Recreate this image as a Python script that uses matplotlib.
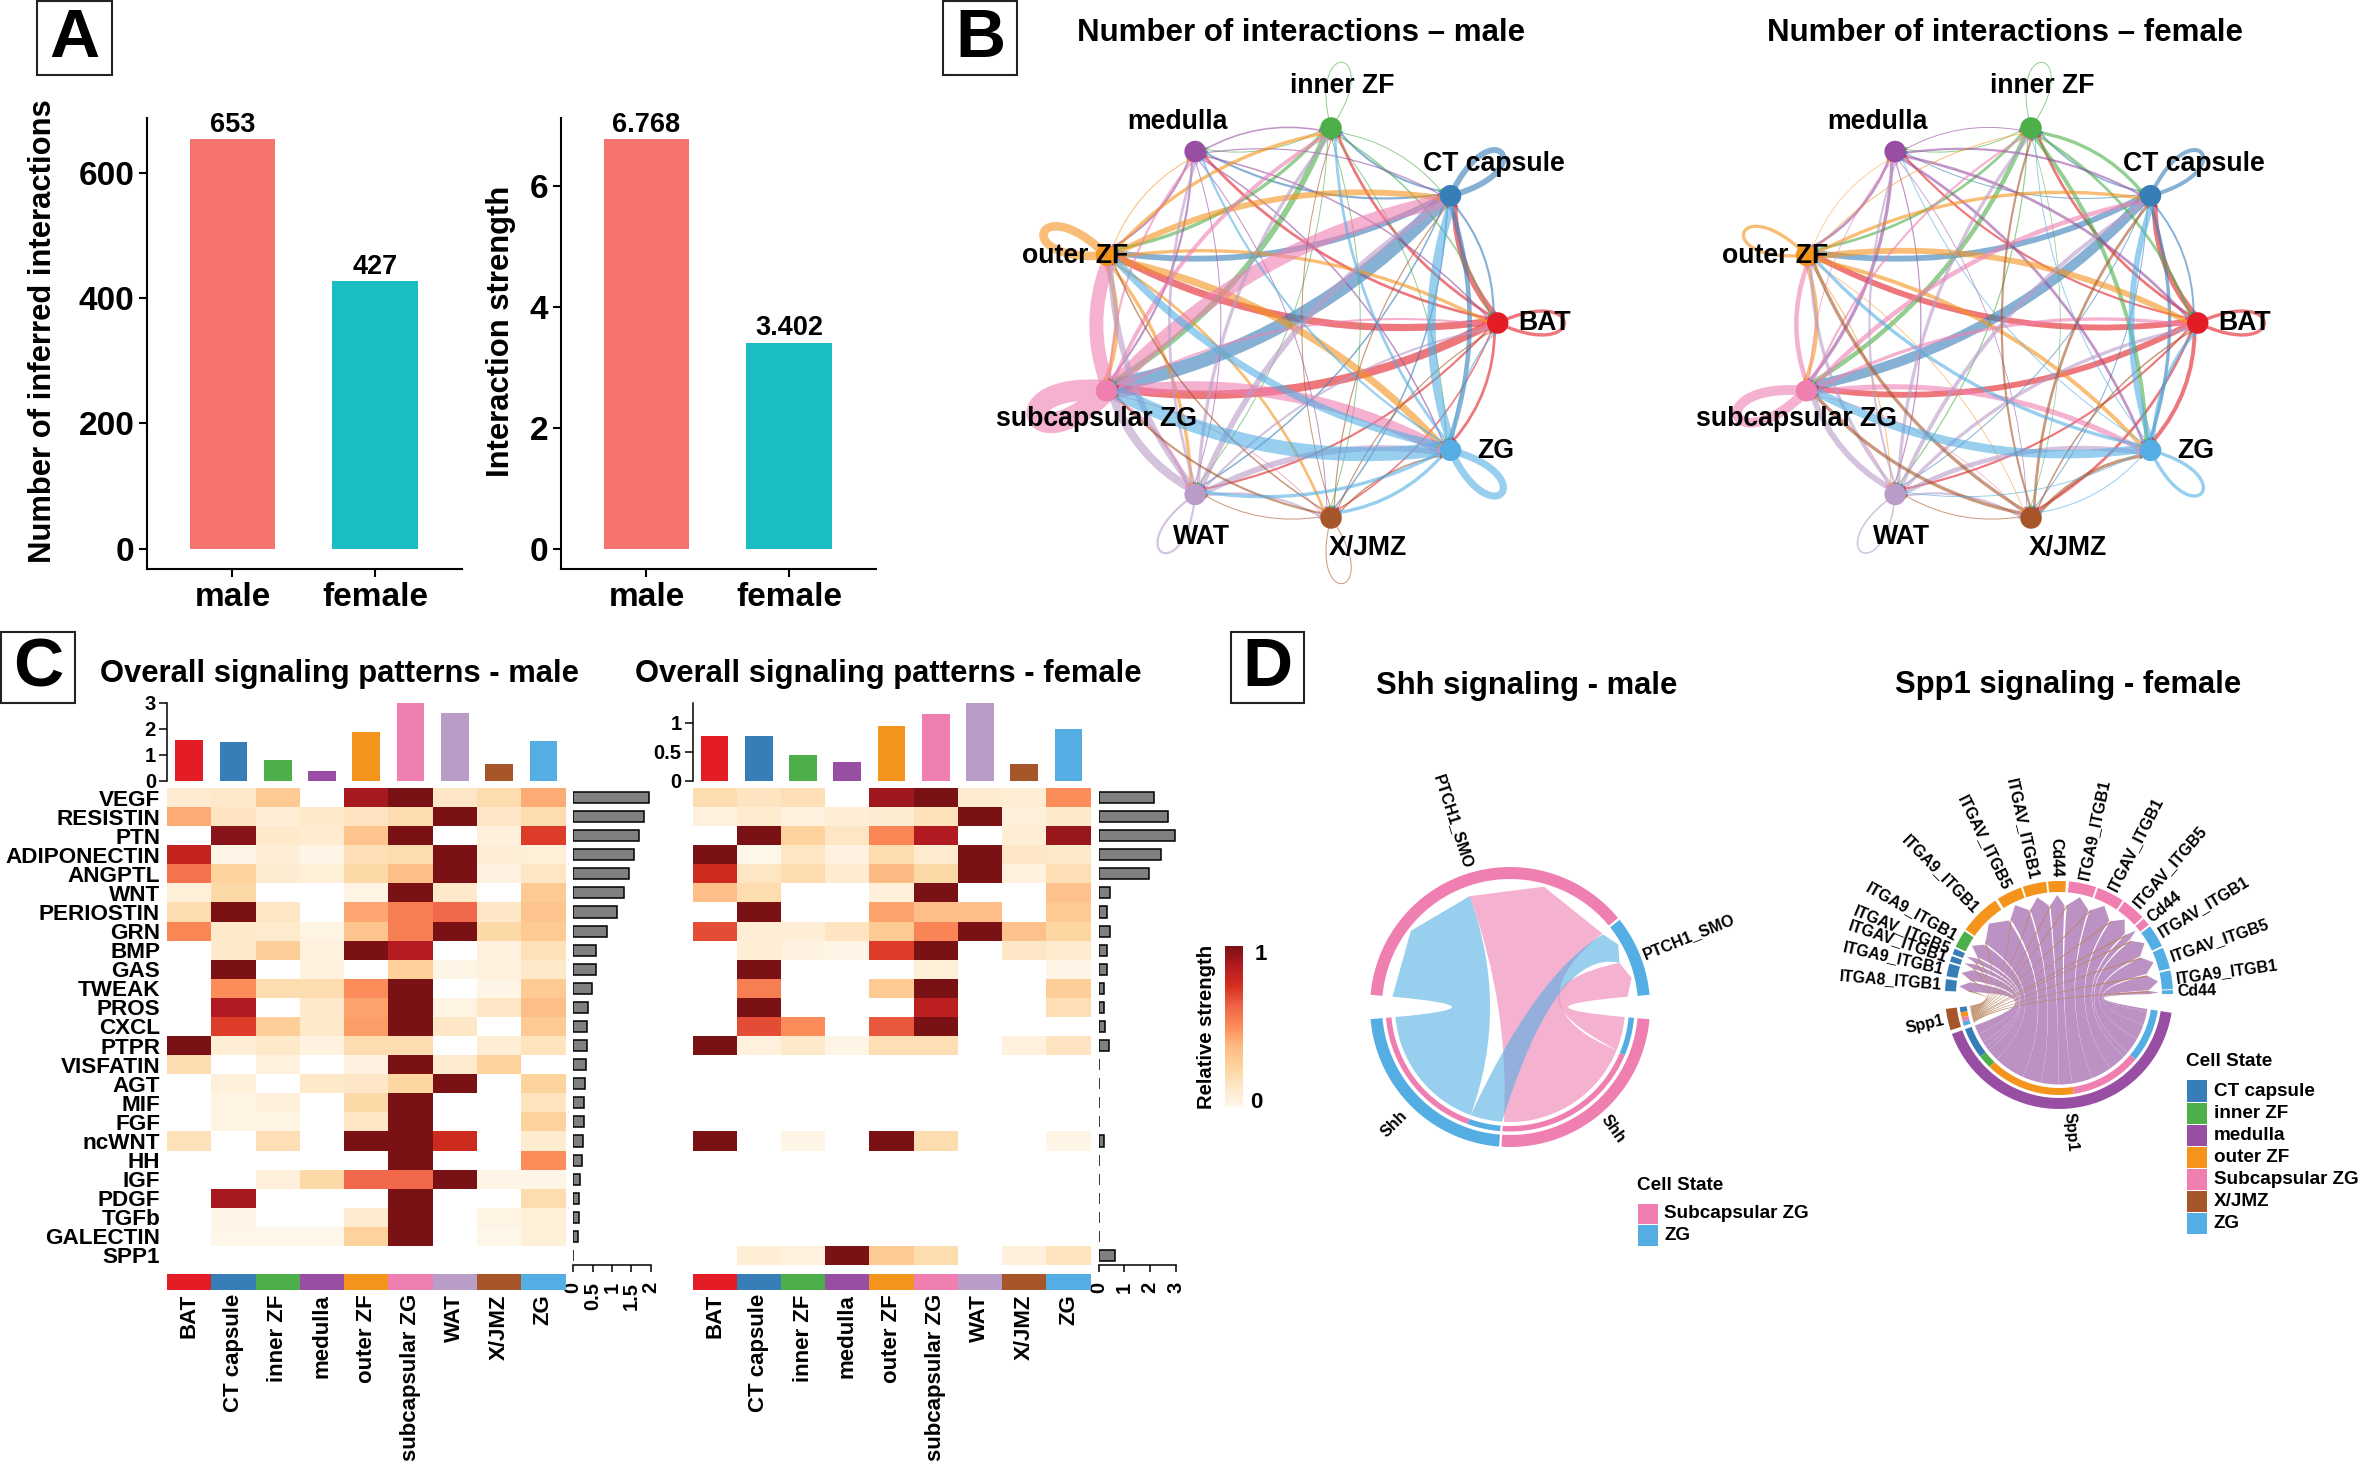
import numpy as np
import matplotlib
matplotlib.use("Agg")
import matplotlib.pyplot as plt
from matplotlib.colors import LinearSegmentedColormap
from matplotlib.patches import PathPatch, Polygon, Rectangle
from matplotlib.path import Path
from matplotlib.transforms import ScaledTranslation

plt.rcParams["font.family"] = ["Liberation Sans", "DejaVu Sans"]
plt.rcParams["font.weight"] = "bold"

W, H = 2362, 1466

# panel A
SEX = ["male", "female"]
N_INTERACTIONS = [653, 427]
STRENGTH = [6.768, 3.402]
SEX_COLORS = ["#F5746D", "#1ABDC1"]

# cell states
STATES = ["BAT", "CT capsule", "inner ZF", "medulla", "outer ZF", "subcapsular ZG", "WAT", "X/JMZ", "ZG"]
STATE_COLORS = ["#E31C25", "#377EB8", "#4DAF4A", "#984EA3", "#F4941C", "#EF7FB1", "#BA9CC8", "#A65628", "#54AEE3"]
HEAT_COLORS = ["#FFF7EC", "#FEE8C8", "#FDD49E", "#FDBB84", "#FC8D59", "#EF6548", "#D7301F", "#B31B21", "#7A1215"]

# panel B, widths in px, row = source, column = target
WIDTH_MALE = [
    [3, 5, 2.5, 2.5, 6, 7, 2, 1.5, 2.5],
    [2, 5, 2, 2, 5, 11, 1.5, 1.5, 4],
    [1.5, 1, 1, 1, 3, 5, 1, 1, 1],
    [1.5, 1.2, 1.5, 0, 2, 2, 1, 1, 1.5],
    [3, 5, 3, 1, 7, 4, 3, 2.5, 6],
    [2, 11, 3.5, 2, 11, 16, 3, 1, 9],
    [2, 5, 3, 2.5, 5, 7, 2, 2, 5],
    [1.2, 1.2, 1, 0, 1.5, 2, 1, 1, 1.5],
    [1.5, 7, 2.5, 2, 6, 11, 3, 3, 6],
]
WIDTH_FEMALE = [
    [3, 5, 2.5, 2, 5, 5, 2, 2.5, 3.5],
    [1.8, 3.5, 1.5, 1, 5, 8, 1, 1, 3],
    [2.5, 3, 1, 1, 2.5, 4, 1.2, 0.8, 3.5],
    [2.5, 2, 1, 0, 2.5, 3, 1.2, 0.8, 2.5],
    [5, 3, 1, 0.7, 3, 3.5, 1, 0.8, 3.5],
    [3, 4, 2, 1, 4, 8, 1, 0.8, 4.5],
    [3, 3.5, 3, 2, 3, 5, 1.5, 2, 4],
    [1.5, 2.5, 2, 0, 3, 3, 1, 0, 3],
    [3, 5, 1, 1, 3, 7, 1, 1, 3],
]
NODE_LABEL_POS = [(1545, 323), (1494, 164), (1342, 86), (1177, 122), (1075, 256),
                  (1096, 419), (1201, 537), (1368, 548), (1496, 451)]

# panel C
PATHWAYS = ["VEGF", "RESISTIN", "PTN", "ADIPONECTIN", "ANGPTL", "WNT", "PERIOSTIN", "GRN", "BMP",
            "GAS", "TWEAK", "PROS", "CXCL", "PTPR", "VISFATIN", "AGT", "MIF", "FGF", "ncWNT",
            "HH", "IGF", "PDGF", "TGFb", "GALECTIN", "SPP1"]
HEAT_MALE = [
    [.1, .12, .3, 0, .9, 1, .13, .2, .42],
    [.42, .15, .08, .12, .15, .2, 1, .13, .2],
    [0, .97, .12, .1, .33, 1, 0, .06, .72],
    [.82, .02, .08, .02, .18, .2, 1, .08, .07],
    [.58, .26, .09, .07, .22, .36, 1, .04, .14],
    [.07, .22, 0, 0, .03, 1, .12, 0, .3],
    [.2, 1, .14, 0, .43, .55, .62, .13, .33],
    [.52, .12, .11, .03, .33, .55, 1, .22, .3],
    [0, .12, .28, .05, 1, .87, 0, .05, .17],
    [0, 1, 0, .05, 0, .27, .02, .05, .12],
    [0, .5, .2, .2, .5, 1, 0, .02, .3],
    [0, .88, 0, .12, .44, 1, .03, .13, .36],
    [0, .72, .28, .12, .46, 1, .13, 0, .3],
    [1, .08, .12, .04, .2, .2, 0, .08, .16],
    [.2, 0, .05, 0, .04, 1, .1, .26, 0],
    [0, .06, 0, .12, .13, .24, 1, 0, .25],
    [0, .03, .06, 0, .22, 1, 0, 0, .16],
    [0, .03, .03, 0, .14, 1, 0, 0, .26],
    [.17, 0, .18, 0, 1, 1, .78, 0, .1],
    [0, 0, 0, 0, 0, 1, 0, 0, .5],
    [0, 0, .06, .22, .62, .62, 1, .02, .02],
    [0, .9, 0, 0, 0, 1, 0, 0, .2],
    [0, .02, 0, 0, .1, 1, 0, .03, .07],
    [0, .01, .01, .01, .26, 1, 0, .01, .07],
    [0, 0, 0, 0, 0, 0, 0, 0, 0],
]
HEAT_FEMALE = [
    [.2, .15, .18, 0, .92, 1, .1, .08, .5],
    [.05, .1, .05, .08, .09, .17, 1, .06, .12],
    [0, 1, .26, .14, .52, .88, 0, .08, .93],
    [1, .01, .14, .04, .2, .1, 1, .13, .12],
    [.78, .14, .2, .1, .38, .22, 1, .05, .18],
    [.36, .2, 0, 0, .06, 1, 0, 0, .34],
    [0, 1, 0, 0, .44, .36, .36, 0, .3],
    [.68, .08, .08, .15, .3, .53, 1, .34, .24],
    [0, .08, .04, .02, .72, 1, 0, .13, .11],
    [0, 1, 0, 0, 0, .07, 0, 0, .02],
    [0, .55, 0, 0, .3, 1, 0, 0, .28],
    [0, 1, 0, 0, 0, .84, 0, 0, .18],
    [0, .68, .5, 0, .66, 1, 0, 0, 0],
    [1, .05, .12, .02, .18, .18, 0, .05, .15],
    [0, 0, 0, 0, 0, 0, 0, 0, 0],
    [0, 0, 0, 0, 0, 0, 0, 0, 0],
    [0, 0, 0, 0, 0, 0, 0, 0, 0],
    [0, 0, 0, 0, 0, 0, 0, 0, 0],
    [1, 0, .02, 0, 1, .2, 0, 0, .02],
    [0, 0, 0, 0, 0, 0, 0, 0, 0],
    [0, 0, 0, 0, 0, 0, 0, 0, 0],
    [0, 0, 0, 0, 0, 0, 0, 0, 0],
    [0, 0, 0, 0, 0, 0, 0, 0, 0],
    [0, 0, 0, 0, 0, 0, 0, 0, 0],
    [0, .08, .05, 1, .3, .2, 0, .06, .16],
]
TOP_MALE = [1.57, 1.51, .82, .37, 1.9, 3, 2.63, .65, 1.55]
TOP_FEMALE = [.78, .78, .45, .33, .95, 1.15, 1.34, .29, .9]
SIDE_MALE = [1.95, 1.81, 1.69, 1.56, 1.43, 1.3, 1.12, .86, .59, .58, .49, .39, .37, .355, .33,
             .3, .29, .27, .26, .23, .19, .16, .15, .14, 0]
SIDE_FEMALE = [2.15, 2.69, 2.97, 2.45, 1.97, .43, .34, .46, .34, .34, .22, .2, .25, .4, 0,
               0, 0, 0, .2, 0, 0, 0, 0, 0, .63]

# panel D, male chord, angles in degrees
SHH_RING = [(39.5, 175, "#EF7FB1"), (5, 38.5, "#54AEE3"), (185, 265.5, "#54AEE3"), (266.5, 355, "#EF7FB1")]
SHH_INNER = [(185, 250, "#EF7FB1"), (250, 265.5, "#54AEE3"), (266.5, 337.3, "#EF7FB1"), (337.3, 355, "#54AEE3")]
# top arc, bottom arc, colour, control point of each side
SHH_RIBBONS = [((175, 110), (250, 185), "#54AEE3", (0, 0), (0, 0)),
               ((110, 38.5), (338, 267), "#EF7FB1", (0, 0), (0, 0)),
               ((38, 22), (266, 250), "#54AEE3", (46, -59), (26, -33)),
               ((22, 5), (355, 338), "#EF7FB1", (0, 0), (-11, -18))]

# panel D, female chord
SPP1_RECEPTORS = ["ITGA8_ITGB1", "ITGA9_ITGB1", "ITGAV_ITGB1", "ITGAV_ITGB5", "ITGA9_ITGB1", "ITGA9_ITGB1",
                  "ITGAV_ITGB5", "ITGAV_ITGB1", "Cd44", "ITGA9_ITGB1", "ITGAV_ITGB1", "ITGAV_ITGB5", "Cd44",
                  "ITGAV_ITGB1", "ITGAV_ITGB5", "ITGA9_ITGB1", "Cd44"]
SPP1_TOP = [(178, 172), (170.5, 164), (163, 160), (159, 156), (155, 146), (145, 124), (122.5, 109.5), (108.5, 96.5),
            (95.5, 86.5), (85, 71), (70, 56), (55, 43), (42, 38), (37, 25.5), (24.5, 13.5), (12.5, 3), (2.5, 0.5)]
SPP1_TOP_COLOR = [1, 1, 1, 1, 2, 4, 4, 4, 4, 5, 5, 5, 5, 8, 8, 8, 8]
SPP1_LOWER = [200, 206, 212, 215, 218, 226, 246, 258.4, 269.8, 278.5, 291.7, 304.9, 316.2, 320,
              330.5, 340.5, 349.2, 351]
SPP1_BROWN = [187, 187.6, 188.3, 188.9, 189.6, 190.2, 190.9, 191.5, 192.2, 192.8, 193.4, 194.1, 194.7,
              195.4, 196, 196.7, 197.3, 198]
SPP1_INNER_LOW = [(187, 190, 1), (190, 193, 4), (193, 195.5, 5), (195.5, 198, 8), (200, 218, 1), (218, 226, 2),
                  (226, 278.5, 4), (278.5, 320, 5), (320, 351, 8)]

LEGEND_MALE = [("Subcapsular ZG", 5), ("ZG", 8)]
LEGEND_FEMALE = [("CT capsule", 1), ("inner ZF", 2), ("medulla", 3), ("outer ZF", 4),
                 ("Subcapsular ZG", 5), ("X/JMZ", 7), ("ZG", 8)]

fig = plt.figure(figsize=(W / 100, H / 100), dpi=100, facecolor="white")
heat_cmap = LinearSegmentedColormap.from_list("heat", HEAT_COLORS)
heat_cmap.set_bad("white")


def px_axes(x0, y0, x1, y1, **kw):
    return fig.add_axes([x0 / W, 1 - y1 / H, (x1 - x0) / W, (y1 - y0) / H], **kw)


# full figure axes in pixel coordinates, for networks, chords and labels
pix = fig.add_axes([0, 0, 1, 1])
pix.set_xlim(0, W)
pix.set_ylim(H, 0)
pix.axis("off")


def bar_panel(x0, x1, values, ymin, ymax, yticks, ylabel, ylabel_x, fmt):
    ax = px_axes(x0, 118, x1, 569)
    ax.patch.set_alpha(0)
    ax.bar([1, 2], values, width=0.6, color=SEX_COLORS)
    ax.set_xlim(0.402, 2.607)
    ax.set_ylim(ymin, ymax)
    ax.set_xticks([1, 2])
    ax.set_xticklabels(SEX, fontsize=24)
    shift = ScaledTranslation(4 / 100, 0, fig.dpi_scale_trans)
    for lab in ax.get_xticklabels():
        lab.set_transform(lab.get_transform() + shift)
    ax.set_yticks(yticks)
    ax.tick_params(axis="y", labelsize=24, length=6, width=1.5, pad=3)
    ax.tick_params(axis="x", length=6, width=1.5, pad=3)
    for s in ("top", "right"):
        ax.spines[s].set_visible(False)
    for s in ("left", "bottom"):
        ax.spines[s].set_linewidth(1.5)
    for i, v in enumerate(values):
        ax.annotate(fmt % v, (i + 1, v), xytext=(0, 1), textcoords="offset points",
                    ha="center", va="bottom", fontsize=19.5)
    pix.text(ylabel_x, 331, ylabel, rotation=90, ha="center", va="center", fontsize=22.3)


bar_panel(147, 462, N_INTERACTIONS, -32.6, 687, [0, 200, 400, 600], "Number of inferred interactions", 43, "%d")
bar_panel(561, 876, STRENGTH, -0.337, 7.117, [0, 2, 4, 6], "Interaction strength", 501, "%.3f")


def network(cx, widths, dx_label):
    rx, ry = 201.7, 198
    angles = np.deg2rad([i * 40 for i in range(len(STATES))])
    nodes = [(cx + rx * np.cos(a), 323 - ry * np.sin(a)) for a in angles]
    for i, row in enumerate(widths):
        for j, w in enumerate(row):
            if w == 0:
                continue
            p0 = np.array(nodes[i])
            p1 = np.array(nodes[j])
            if i == j:
                th = angles[i]
                dev = np.deg2rad(25)
                reach = 98 if i != 5 else 108
                c1 = p0 + reach * np.array([np.cos(th + dev), -np.sin(th + dev)])
                c2 = p0 + reach * np.array([np.cos(th - dev), -np.sin(th - dev)])
            else:
                d = p1 - p0
                length = np.hypot(*d)
                u = d / length
                n = np.array([d[1], -d[0]]) / length
                p0 = p0 + u * 9
                p1 = p1 - u * 12
                c1 = p0 + 0.33 * (p1 - p0) + n * 0.1 * length
                c2 = p0 + 0.67 * (p1 - p0) + n * 0.1 * length
            path = Path([p0, c1, c2, p1], [Path.MOVETO, Path.CURVE4, Path.CURVE4, Path.CURVE4])
            pix.add_patch(PathPatch(path, fc="none", ec=STATE_COLORS[i], lw=0.72 * w ** 1.1, alpha=0.6,
                                    capstyle="butt", zorder=2))
            tip = p1 - (p1 - c2) / np.hypot(*(p1 - c2)) * 9 if i == j else p1
            t = (p1 - c2) / np.hypot(*(p1 - c2))
            tn = np.array([-t[1], t[0]])
            size = 5 + w * 0.3
            pix.add_patch(Polygon([tip + t * size, tip + tn * size * 0.55, tip - tn * size * 0.55],
                                  fc=STATE_COLORS[i], ec="none", alpha=0.85, zorder=2.5))
    xs, ys = zip(*nodes)
    pix.scatter(xs, ys, s=240, c=STATE_COLORS, linewidths=0, zorder=4)
    for name, (x, y) in zip(STATES, NODE_LABEL_POS):
        pix.text(x + dx_label, y, name, ha="center", va="center", fontsize=19.2, zorder=5)


network(1296, WIDTH_MALE, 0)
network(1996, WIDTH_FEMALE, 700)
pix.text(1301, 33, "Number of interactions \u2013 male", ha="center", va="center", fontsize=22.5)
pix.text(2005, 33, "Number of interactions \u2013 female", ha="center", va="center", fontsize=22.5)


def heat_panel(x0, x1, heat, top, top_ymax, top_ticks, side, sx0, sx1, side_max, side_ticks, names):
    data = np.ma.masked_equal(np.array(heat, dtype=float), 0)
    ax = px_axes(x0, 788, x1, 1265)
    ax.pcolormesh(data, cmap=heat_cmap, vmin=0, vmax=1)
    ax.set_ylim(len(PATHWAYS), 0)
    ax.set_xticks([])
    ax.set_yticks(np.arange(len(PATHWAYS)) + 0.5)
    ax.set_yticklabels(PATHWAYS if names else [], fontsize=16.2)
    ax.tick_params(axis="y", length=0, pad=5)
    for s in ax.spines.values():
        s.set_visible(False)

    axt = px_axes(x0, 703, x1, 781)
    axt.bar(np.arange(9) + 0.5, top, width=0.625, color=STATE_COLORS)
    axt.set_xlim(0, 9)
    axt.set_ylim(0, top_ymax)
    axt.set_xticks([])
    axt.set_yticks(top_ticks)
    axt.set_yticklabels(["%g" % t for t in top_ticks], fontsize=14.5)
    axt.tick_params(axis="y", length=6, width=1.1, pad=2)
    for s in ("top", "right", "bottom"):
        axt.spines[s].set_visible(False)
    axt.spines["left"].set_linewidth(1.1)

    axs = px_axes(sx0, 788, sx1, 1265)
    axs.barh(np.arange(len(PATHWAYS)) + 0.5, side, height=0.58, color="#808080", edgecolor="black", linewidth=1.1)
    axs.set_xlim(0, side_max)
    axs.set_ylim(len(PATHWAYS), 0)
    axs.set_yticks([])
    axs.set_xticks(side_ticks)
    axs.set_xticklabels(["%g" % t for t in side_ticks], rotation=90, fontsize=14.5)
    axs.tick_params(axis="x", length=5, width=1.1, pad=7)
    for s in ("top", "right", "left"):
        axs.spines[s].set_visible(False)
    axs.spines["bottom"].set_linewidth(1.1)

    axc = px_axes(x0, 1274, x1, 1290)
    for i, c in enumerate(STATE_COLORS):
        axc.bar(i + 0.5, 1, width=1, color=c)
    axc.set_xlim(0, 9)
    axc.set_ylim(0, 1)
    axc.set_yticks([])
    axc.set_xticks(np.arange(9) + 0.5)
    axc.set_xticklabels(STATES, rotation=90, fontsize=16)
    axc.tick_params(axis="x", length=0, pad=3)
    for s in axc.spines.values():
        s.set_visible(False)


heat_panel(167, 565.5, HEAT_MALE, TOP_MALE, 3, [0, 1, 2, 3], SIDE_MALE, 573, 651, 2, [0, 0.5, 1, 1.5, 2], True)
heat_panel(692.5, 1090.5, HEAT_FEMALE, TOP_FEMALE, 1.34, [0, 0.5, 1], SIDE_FEMALE, 1098.5, 1175.5, 3, [0, 1, 2, 3], False)
pix.text(339, 674, "Overall signaling patterns - male", ha="center", va="center", fontsize=22.3)
pix.text(888, 674, "Overall signaling patterns - female", ha="center", va="center", fontsize=22.3)

axb = px_axes(1225, 946, 1242.6, 1107)
axb.imshow(np.linspace(1, 0, 256).reshape(-1, 1), cmap=heat_cmap, aspect="auto", vmin=0, vmax=1)
axb.axis("off")
pix.text(1255, 954, "1", ha="left", va="center", fontsize=16)
pix.text(1250, 1103, "0", ha="left", va="center", fontsize=16)
pix.text(1206, 1027, "Relative strength", rotation=90, ha="center", va="center", fontsize=14.6)


def pt(cx, cy, r, a):
    a = np.deg2rad(a)
    return (cx + r * np.cos(a), cy - r * np.sin(a))


def band(cx, cy, r0, r1, a0, a1, color):
    aa = np.linspace(a0, a1, 40)
    verts = [pt(cx, cy, r1, a) for a in aa] + [pt(cx, cy, r0, a) for a in aa[::-1]]
    pix.add_patch(Polygon(verts, fc=color, ec="none", zorder=3))


def ribbon(cx, cy, top, bot, color, r_end, r_mid, r_low, alpha=1.0, ctrl1=(0, 0), ctrl2=(0, 0), z=2):
    # side one joins top[1] to bot[0], side two joins bot[1] to top[0]
    verts = [pt(cx, cy, r_end, top[0]), pt(cx, cy, r_mid, (top[0] + top[1]) / 2), pt(cx, cy, r_end, top[1])]
    codes = [Path.MOVETO, Path.LINETO, Path.LINETO]
    verts += [(cx + ctrl1[0], cy + ctrl1[1]), pt(cx, cy, r_low, bot[0])]
    codes += [Path.CURVE3, Path.CURVE3]
    for a in np.linspace(bot[0], bot[1], 30)[1:]:
        verts.append(pt(cx, cy, r_low, a))
        codes.append(Path.LINETO)
    verts += [(cx + ctrl2[0], cy + ctrl2[1]), verts[0]]
    codes += [Path.CURVE3, Path.CURVE3]
    pix.add_patch(PathPatch(Path(verts, codes), fc=color, ec="none", alpha=alpha, zorder=z))


def legend(x, y_title, y_first, step, size, items):
    pix.text(x, y_title, "Cell State", ha="left", va="center", fontsize=13.6)
    for k, (name, idx) in enumerate(items):
        y = y_first + k * step
        pix.add_patch(Rectangle((x + 0.5, y - step / 2 + 0.5), size, step - 1, fc=STATE_COLORS[idx], ec="none"))
        pix.text(x + 27.5, y, name, ha="left", va="center", fontsize=13.6)


# Shh chord, male
cx, cy = 1510, 1007
for top, bot, col, c1, c2 in SHH_RIBBONS:
    ribbon(cx, cy, top, bot, col, 118, 125, 115, alpha=0.6, ctrl1=c1, ctrl2=c2)
for a0, a1, c in SHH_RING:
    band(cx, cy, 128, 140, a0, a1, c)
for a0, a1, c in SHH_INNER:
    band(cx, cy, 119, 124.5, a0, a1, c)
pix.text(1453, 822, "PTCH1_SMO", rotation=-72, ha="center", va="center", fontsize=11.5)
pix.text(1689, 937, "PTCH1_SMO", rotation=22, ha="center", va="center", fontsize=11.5)
pix.text(1394, 1124, "Shh", rotation=45, ha="center", va="center", fontsize=11.5)
pix.text(1613, 1129, "Shh", rotation=-55, ha="center", va="center", fontsize=11.5)
pix.text(1527, 686, "Shh signaling - male", ha="center", va="center", fontsize=22.3)
legend(1637, 1185, 1214, 21.5, 20, LEGEND_MALE)

# Spp1 chord, female
cx, cy = 2059, 995
for k, top in enumerate(SPP1_TOP):
    ribbon(cx, cy, top, (SPP1_LOWER[k + 1], SPP1_LOWER[k]), "#BC92C4", 90, 100, 89.5)
for k, top in enumerate(SPP1_TOP):
    ribbon(cx, cy, (top[0], top[0] - 0.8), (SPP1_BROWN[k + 1], SPP1_BROWN[k]), "#BB8763", 90, 90, 89.5,
           ctrl1=(-55, 4), ctrl2=(-55, 4), z=2.2)
for (a0, a1), idx in zip(SPP1_TOP, SPP1_TOP_COLOR):
    band(cx, cy, 103, 114, a0, a1, STATE_COLORS[idx])
band(cx, cy, 103, 114, 187, 198, STATE_COLORS[7])
band(cx, cy, 103, 114, 200, 351, STATE_COLORS[3])
for a0, a1, idx in SPP1_INNER_LOW:
    band(cx, cy, 93, 100, a0, a1, STATE_COLORS[idx])
for name, (a0, a1) in zip(SPP1_RECEPTORS, SPP1_TOP):
    a = (a0 + a1) / 2
    x, y = pt(cx, cy, 118, a)
    if a > 90:
        pix.text(x, y, name, rotation=a - 180, rotation_mode="anchor", ha="right", va="center", fontsize=11.5)
    else:
        pix.text(x, y, name, rotation=a, rotation_mode="anchor", ha="left", va="center", fontsize=11.5)
x, y = pt(cx, cy, 118, 192.5)
pix.text(x, y, "Spp1", rotation=12.5, rotation_mode="anchor", ha="right", va="center", fontsize=11.5)
x, y = pt(cx, cy, 118, 275)
pix.text(x, y, "Spp1", rotation=-85, rotation_mode="anchor", ha="left", va="center", fontsize=11.5)
pix.text(2068, 685, "Spp1 signaling - female", ha="center", va="center", fontsize=22.3)
legend(2186, 1062, 1091, 22.1, 20, LEGEND_FEMALE)

# panel letters
for letter, x0, y0, x1, y1 in [("A", 37, 1, 111.5, 75), ("B", 943, 1, 1017, 75),
                               ("C", 1, 632, 75, 703), ("D", 1231, 632, 1304, 703)]:
    pix.add_patch(Rectangle((x0, y0), x1 - x0, y1 - y0, fc="white", ec="#222222", lw=1.5, zorder=6))
    pix.text((x0 + x1) / 2, (y0 + y1) / 2 + 1, letter, ha="center", va="center", fontsize=50, zorder=7)

fig.savefig("out.png", dpi=100)
